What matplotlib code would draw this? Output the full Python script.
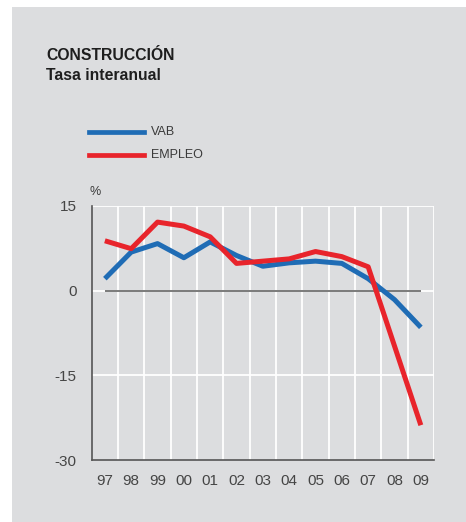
import matplotlib.pyplot as plt
from matplotlib.patches import Rectangle

# Datos
years = ['97', '98', '99', '00', '01', '02', '03', '04', '05', '06', '07', '08', '09']
vab = [2.1, 6.8, 8.3, 5.8, 8.6, 6.2, 4.3, 4.9, 5.2, 4.8, 2.1, -1.6, -6.5]
empleo = [8.8, 7.4, 12.1, 11.4, 9.5, 4.8, 5.2, 5.6, 6.9, 6.0, 4.2, -9.8, -23.8]
yticks = [15, 0, -15, -30]

blue = '#1f6cb5'
red = '#e8242b'
bg = '#dcdddf'
txt = '#3a3a3a'

plt.rcParams['font.family'] = ['Liberation Sans', 'DejaVu Sans']
plt.rcParams['axes.unicode_minus'] = False

fig = plt.figure(figsize=(4.66, 5.22), dpi=100)
fig.patch.set_facecolor('white')
fig.patches.append(Rectangle((12 / 466, 0), 1, (522 - 7) / 522, transform=fig.transFigure,
                             facecolor=bg, edgecolor='none', zorder=-5))

ax = fig.add_axes([91.7 / 466, 61.7 / 522, 342.3 / 466, 254.6 / 522])
ax.set_zorder(2)
ax.set_facecolor(bg)
x = list(range(len(years)))

# Rejilla blanca
for gx in range(len(years)):
    ax.axvline(gx + 0.5, color='white', lw=1.3, zorder=1)
for gy in yticks[:-1]:
    ax.axhline(gy, color='white', lw=1.3, zorder=1)
ax.hlines(0, x[0], x[-1], color='#7a7a7a', lw=1.4, zorder=2)

ax.plot(x, vab, color=blue, lw=3.6, solid_capstyle='butt', zorder=3, label='VAB')
ax.plot(x, empleo, color=red, lw=3.6, solid_capstyle='butt', zorder=4, label='EMPLEO')

ax.set_xlim(-0.5, len(years) - 0.5)
ax.set_ylim(-30, 15)
ax.set_xticks(x)
ax.set_xticklabels(years)
ax.set_yticks(yticks)
ax.set_yticklabels([str(t) for t in yticks])
ax.tick_params(length=0, labelsize=11, colors='#454545')
ax.tick_params(axis='y', pad=11)
ax.tick_params(axis='x', pad=10)
for s in ['top', 'right']:
    ax.spines[s].set_visible(False)
for s in ['left', 'bottom']:
    ax.spines[s].set_color('#555555')
    ax.spines[s].set_linewidth(1.2)

fig.text(89 / 466, 1 - 192 / 522, '%', fontsize=9, color=txt, va='center', ha='left')

# Títulos
fig.text(46 / 466, 1 - 56 / 522, 'CONSTRUCCIÓN', fontsize=11.3, fontweight='bold',
         color='#1e1e1e', va='center', ha='left')
fig.text(46 / 466, 1 - 75 / 522, 'Tasa interanual', fontsize=11.3, fontweight='bold',
         color='#1e1e1e', va='center', ha='left')

# Leyenda manual
for yy, col, lab in [(132, blue, 'VAB'), (155, red, 'EMPLEO')]:
    fig.add_artist(plt.Line2D([89 / 466, 144 / 466], [1 - yy / 522, 1 - yy / 522],
                              color=col, lw=3.4, transform=fig.transFigure))
    fig.text(151 / 466, 1 - yy / 522, lab, fontsize=9, color=txt, va='center', ha='left')

fig.savefig('out.png', dpi=100, facecolor='white')
